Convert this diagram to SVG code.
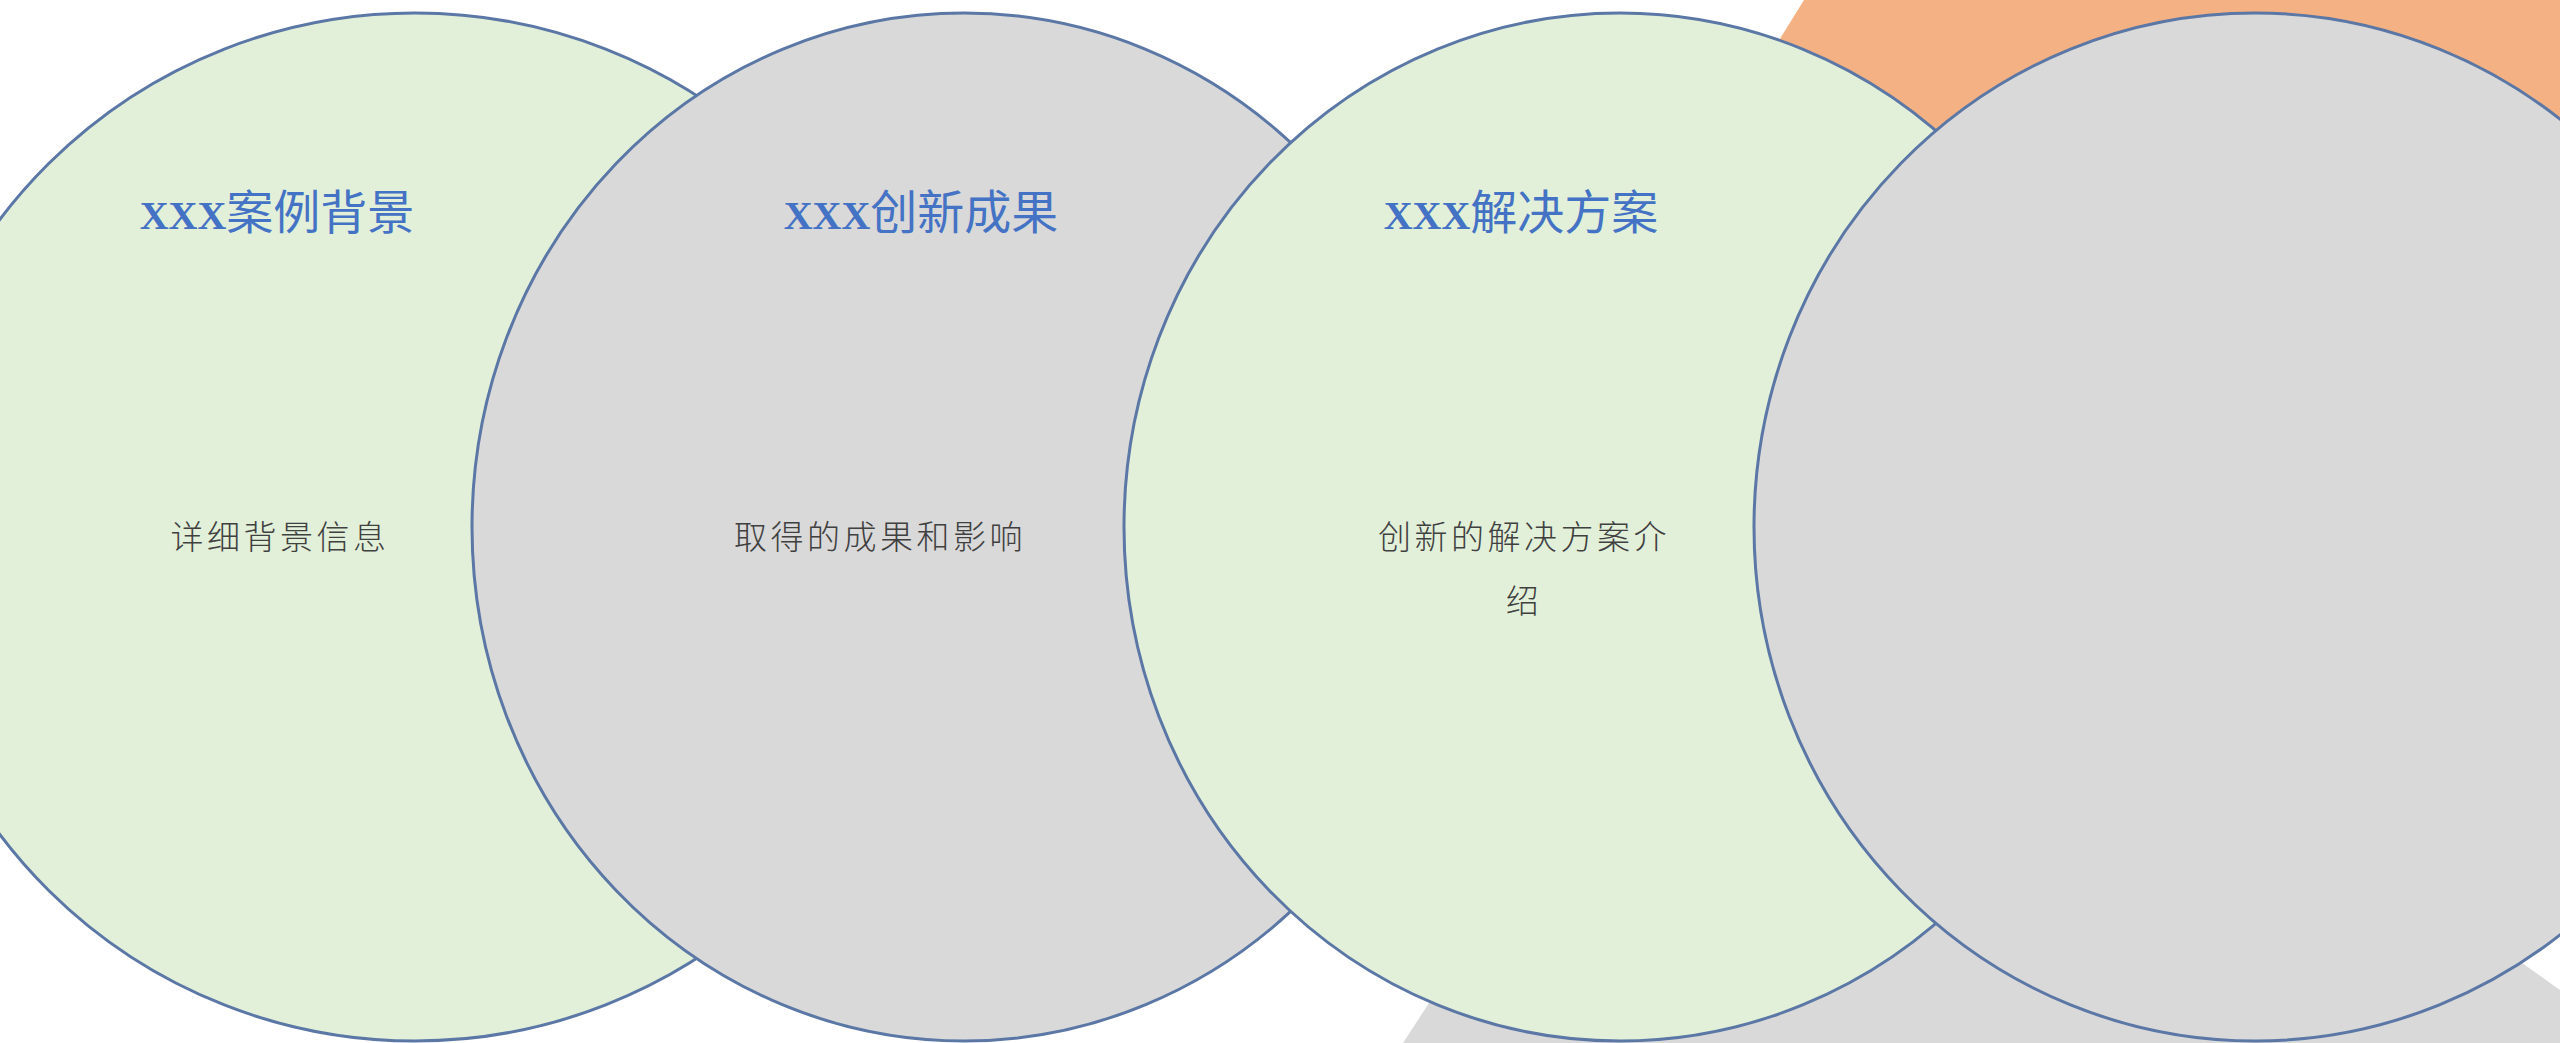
<svg xmlns="http://www.w3.org/2000/svg" width="2560" height="1043" viewBox="0 0 2560 1043">
<style>
.bg{stroke:none}
.node{stroke:#5b77a6;stroke-width:3}
.green{fill:#e2f0d9}
.gray{fill:#d9d9d9}
.title{font-family:"Noto Sans CJK SC",sans-serif;font-size:47px;fill:#4472c4;text-anchor:middle}
.lat{font-family:"Liberation Serif",serif;font-weight:bold;font-size:40px}
.body{font-family:"Noto Sans CJK SC",sans-serif;font-weight:300;font-size:33px;fill:#404040;text-anchor:middle;letter-spacing:3.5px}
</style>
<rect width="2560" height="1043" fill="#ffffff"/>
<g id="background">
<polygon class="bg" fill="#f4b183" points="1804,0 2560,0 2560,300 1618,300"/>
<polygon class="bg" fill="#d9d9d9" points="1794,442 2634,1043 1403,1043"/>
</g>
<g id="node1">
<ellipse class="node green" cx="415" cy="527" rx="518" ry="514"/>
<text class="title" x="277" y="229"><tspan class="lat">XXX</tspan>案例背景</text>
<text class="body" x="280" y="549">详细背景信息</text>
</g>
<g id="node2">
<ellipse class="node gray" cx="964" cy="527" rx="492" ry="514"/>
<text class="title" x="921" y="229"><tspan class="lat">XXX</tspan>创新成果</text>
<text class="body" x="880" y="549">取得的成果和影响</text>
</g>
<g id="node3">
<ellipse class="node green" cx="1620" cy="527" rx="496" ry="514"/>
<text class="title" x="1521" y="229"><tspan class="lat">XXX</tspan>解决方案</text>
<text class="body" x="1524" y="549">创新的解决方案介</text>
<text class="body" x="1524" y="613">绍</text>
</g>
<g id="node4">
<ellipse class="node gray" cx="2255" cy="527" rx="501" ry="514"/>
</g>
<g id="connectors"></g>
</svg>
